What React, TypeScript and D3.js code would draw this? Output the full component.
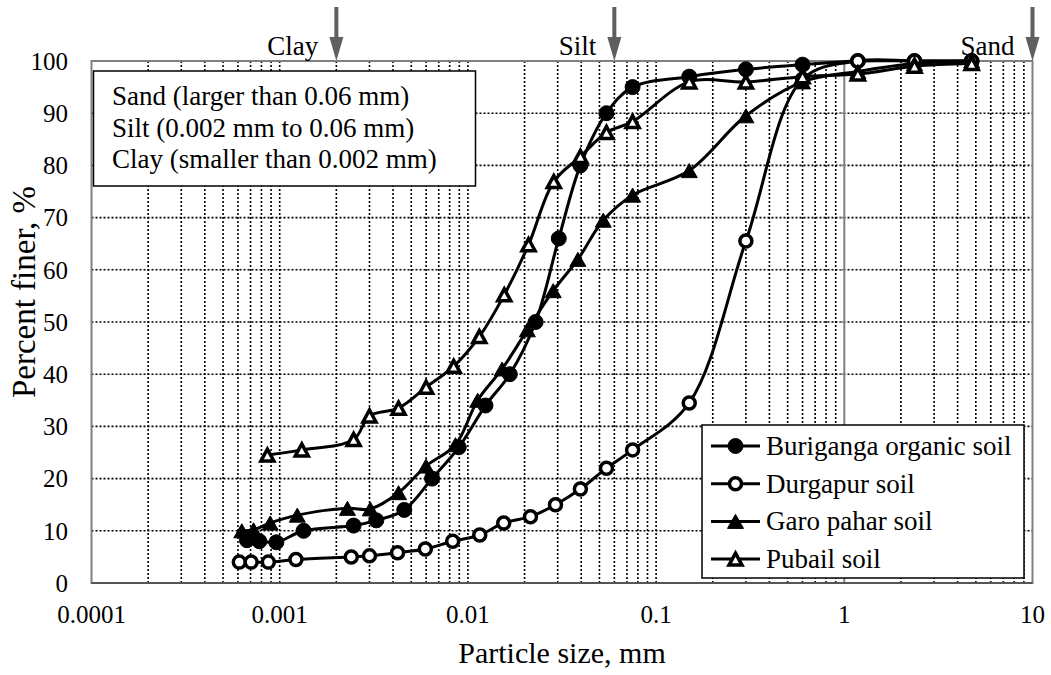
import React, { useRef, useEffect } from "react";
import * as d3 from "d3";

// particle size (mm) and percent finer for each soil
const burigangaSize = [0.00067, 0.00078, 0.00096, 0.00134, 0.00247, 0.00326, 0.00459, 0.00645, 0.00894, 0.0124, 0.0167, 0.0229, 0.0304, 0.0396, 0.0545, 0.075, 0.15, 0.3, 0.6, 1.18, 2.36, 4.75];
const burigangaFiner = [8.2, 8, 7.8, 10, 11, 12, 14, 20, 26, 34, 40, 50, 66, 80, 90, 95, 97, 98.4, 99.3, 100, 100, 100];

const durgapurSize = [0.00061, 0.000705, 0.00087, 0.00122, 0.0024, 0.003, 0.00423, 0.00594, 0.0083, 0.01156, 0.0155, 0.0215, 0.0292, 0.0396, 0.0545, 0.075, 0.15, 0.3, 0.6, 1.18, 2.36, 4.75];
const durgapurFiner = [4, 4, 4, 4.5, 5, 5.2, 5.8, 6.5, 8, 9.2, 11.5, 12.7, 15, 18, 22, 25.5, 34.5, 65.5, 96.5, 100, 100, 100];

const garoSize = [0.000629, 0.000726, 0.00089, 0.00124, 0.00229, 0.00303, 0.00428, 0.00599, 0.00859, 0.01127, 0.0152, 0.0207, 0.0284, 0.0384, 0.0524, 0.075, 0.15, 0.3, 0.6, 1.18, 2.36, 4.75];
const garoFiner = [10, 10.2, 11.5, 13, 14.3, 14.2, 17.3, 22.4, 26.5, 35, 41, 48.5, 56, 62, 69.5, 74.3, 79, 89.5, 96, 98, 99.5, 100];

const pubailSize = [0.00086, 0.00131, 0.00247, 0.003, 0.00428, 0.006, 0.0084, 0.0115, 0.0156, 0.021, 0.0286, 0.0396, 0.0545, 0.075, 0.15, 0.3, 0.6, 1.18, 2.36, 4.75];
const pubailFiner = [24.5, 25.5, 27.5, 32, 33.5, 37.5, 41.5, 47.2, 55.2, 64.8, 76.9, 81.7, 86.3, 88.4, 96, 96, 97, 97.5, 99, 99.5];

const seriesNames = ["Buriganga organic soil", "Durgapur soil", "Garo pahar soil", "Pubail soil"];
const seriesMarkers = ["circleFilled", "circleOpen", "triangleFilled", "triangleOpen"];

const xTicks = [0.0001, 0.001, 0.01, 0.1, 1, 10];
const xTickLabels = ["0.0001", "0.001", "0.01", "0.1", "1", "10"];
const yTicks = [0, 10, 20, 30, 40, 50, 60, 70, 80, 90, 100];

const boundaryLabels = ["Clay", "Silt", "Sand"];
const boundarySizes = [0.002, 0.06, 10];

const noteLines = [
  "Sand (larger than 0.06 mm)",
  "Silt (0.002 mm to 0.06 mm)",
  "Clay (smaller than 0.002 mm)",
];

const FONT = "Liberation Serif, Times New Roman, serif";

const App = () => {
  const chartRef = useRef(null);

  useEffect(() => {
    const width = 1051;
    const height = 675;
    const plot = { left: 91.5, right: 1032.5, top: 61, bottom: 583 };

    d3.select(chartRef.current).selectAll("*").remove();

    const svg = d3
      .select(chartRef.current)
      .append("svg")
      .attr("width", width)
      .attr("height", height)
      .style("display", "block")
      .style("background", "#fff");

    const x = d3.scaleLog().domain([0.0001, 10]).range([plot.left, plot.right]);
    const y = d3.scaleLinear().domain([0, 100]).range([plot.bottom, plot.top]);

    // gridlines, every 1..9 per decade, dotted
    const minor = [];
    for (let e = -4; e < 1; e++) {
      for (let m = 1; m < 10; m++) minor.push(m * Math.pow(10, e));
    }
    const grid = svg.append("g");
    grid
      .selectAll("line.vx")
      .data(minor.filter((v) => v > 0.0001 && Math.abs(v - 1) > 1e-9))
      .enter()
      .append("line")
      .attr("x1", (d) => x(d))
      .attr("x2", (d) => x(d))
      .attr("y1", plot.top)
      .attr("y2", plot.bottom)
      .attr("stroke", "#000")
      .attr("stroke-width", 1.6)
      .attr("stroke-dasharray", "2,2");
    grid
      .selectAll("line.hy")
      .data(yTicks.slice(1, -1))
      .enter()
      .append("line")
      .attr("x1", plot.left)
      .attr("x2", plot.right)
      .attr("y1", (d) => y(d))
      .attr("y2", (d) => y(d))
      .attr("stroke", "#000")
      .attr("stroke-width", 1.6)
      .attr("stroke-dasharray", "2,2");

    // value axis line crossing at 1 mm
    svg
      .append("line")
      .attr("x1", x(1))
      .attr("x2", x(1))
      .attr("y1", plot.top)
      .attr("y2", plot.bottom)
      .attr("stroke", "#808080")
      .attr("stroke-width", 2);
    svg
      .selectAll("line.ytk")
      .data(yTicks)
      .enter()
      .append("line")
      .attr("x1", x(1) - 5)
      .attr("x2", x(1))
      .attr("y1", (d) => y(d))
      .attr("y2", (d) => y(d))
      .attr("stroke", "#808080")
      .attr("stroke-width", 1.5);

    // plot frame
    svg
      .append("rect")
      .attr("x", plot.left)
      .attr("y", plot.top)
      .attr("width", plot.right - plot.left)
      .attr("height", plot.bottom - plot.top)
      .attr("fill", "none")
      .attr("stroke", "#808080")
      .attr("stroke-width", 2);
    svg
      .append("line")
      .attr("x1", plot.left)
      .attr("x2", plot.right)
      .attr("y1", plot.bottom)
      .attr("y2", plot.bottom)
      .attr("stroke", "#555")
      .attr("stroke-width", 2);

    // tick labels
    svg
      .selectAll("text.xt")
      .data(xTicks)
      .enter()
      .append("text")
      .attr("x", (d) => x(d))
      .attr("y", 623)
      .attr("text-anchor", "middle")
      .attr("font-family", FONT)
      .attr("font-size", 25)
      .text((d, i) => xTickLabels[i]);
    svg
      .selectAll("text.yt")
      .data(yTicks)
      .enter()
      .append("text")
      .attr("x", 68)
      .attr("y", (d) => y(d))
      .attr("dy", "0.35em")
      .attr("text-anchor", "end")
      .attr("font-family", FONT)
      .attr("font-size", 25)
      .text((d) => d);

    // axis titles
    svg
      .append("text")
      .attr("x", (plot.left + plot.right) / 2)
      .attr("y", 663)
      .attr("text-anchor", "middle")
      .attr("font-family", FONT)
      .attr("font-size", 30)
      .text("Particle size, mm");
    svg
      .append("text")
      .attr("transform", "translate(23,292) rotate(-90)")
      .attr("text-anchor", "middle")
      .attr("dy", "0.35em")
      .attr("font-family", FONT)
      .attr("font-size", 33)
      .text("Percent finer, %");

    // boundary arrows
    const arrowColor = "#5f5f5f";
    boundarySizes.forEach((s, i) => {
      const ax = x(s);
      svg
        .append("rect")
        .attr("x", ax - 2)
        .attr("y", 7)
        .attr("width", 4)
        .attr("height", 32)
        .attr("fill", arrowColor);
      svg
        .append("path")
        .attr("d", `M${ax - 7},37 L${ax + 7},37 L${ax},${plot.top} Z`)
        .attr("fill", arrowColor);
      svg
        .append("text")
        .attr("x", ax - 18)
        .attr("y", 55)
        .attr("text-anchor", "end")
        .attr("font-family", FONT)
        .attr("font-size", 27)
        .text(boundaryLabels[i]);
    });

    // classification note box
    svg
      .append("rect")
      .attr("x", 93.5)
      .attr("y", 71)
      .attr("width", 382)
      .attr("height", 115)
      .attr("fill", "#fff")
      .attr("stroke", "#000")
      .attr("stroke-width", 1.5);
    svg
      .selectAll("text.note")
      .data(noteLines)
      .enter()
      .append("text")
      .attr("x", 112)
      .attr("y", (d, i) => 105 + i * 31.5)
      .attr("font-family", FONT)
      .attr("font-size", 27)
      .text((d) => d);

    const series = [
      { size: burigangaSize, finer: burigangaFiner },
      { size: durgapurSize, finer: durgapurFiner },
      { size: garoSize, finer: garoFiner },
      { size: pubailSize, finer: pubailFiner },
    ];

    const line = d3
      .line()
      .x((d) => x(d[0]))
      .y((d) => y(d[1]))
      .curve(d3.curveCatmullRom.alpha(0.5));

    const drawMarker = (g, kind, cx, cy) => {
      if (kind.startsWith("circle")) {
        g.append("circle")
          .attr("cx", cx)
          .attr("cy", cy)
          .attr("r", kind === "circleFilled" ? 7.5 : 6)
          .attr("fill", kind === "circleFilled" ? "#000" : "#fff")
          .attr("stroke", "#000")
          .attr("stroke-width", kind === "circleFilled" ? 1 : 3.5);
      } else {
        const s = kind === "triangleFilled" ? 16 : 13;
        const h = kind === "triangleFilled" ? 14 : 12;
        g.append("path")
          .attr("d", `M${cx},${cy - h / 2} L${cx + s / 2},${cy + h / 2} L${cx - s / 2},${cy + h / 2} Z`)
          .attr("fill", kind === "triangleFilled" ? "#000" : "#fff")
          .attr("stroke", "#000")
          .attr("stroke-width", kind === "triangleFilled" ? 1 : 3.5)
          .attr("stroke-linejoin", "miter");
      }
    };

    series.forEach((s, i) => {
      const pts = s.size.map((v, j) => [v, s.finer[j]]);
      svg
        .append("path")
        .attr("d", line(pts))
        .attr("fill", "none")
        .attr("stroke", "#000")
        .attr("stroke-width", 3);
      const g = svg.append("g");
      pts.forEach((p) => drawMarker(g, seriesMarkers[i], x(p[0]), y(p[1])));
    });

    // legend
    const legend = svg.append("g");
    legend
      .append("rect")
      .attr("x", 702)
      .attr("y", 425)
      .attr("width", 322)
      .attr("height", 153)
      .attr("fill", "#fff")
      .attr("stroke", "#000")
      .attr("stroke-width", 1.5);
    seriesNames.forEach((name, i) => {
      const base = 455 + i * 37.7;
      const cy = base - 9;
      legend
        .append("line")
        .attr("x1", 711)
        .attr("x2", 760)
        .attr("y1", cy)
        .attr("y2", cy)
        .attr("stroke", "#000")
        .attr("stroke-width", 3);
      drawMarker(legend, seriesMarkers[i], 735.5, cy);
      legend
        .append("text")
        .attr("x", 766)
        .attr("y", base)
        .attr("font-family", FONT)
        .attr("font-size", 27)
        .text(name);
    });

    return () => {
      d3.select(chartRef.current).selectAll("*").remove();
    };
  }, []);

  return (
    <div
      ref={chartRef}
      style={{ position: "absolute", left: 0, top: 0, width: 1051, height: 675, background: "#fff" }}
    ></div>
  );
};

export default App;
